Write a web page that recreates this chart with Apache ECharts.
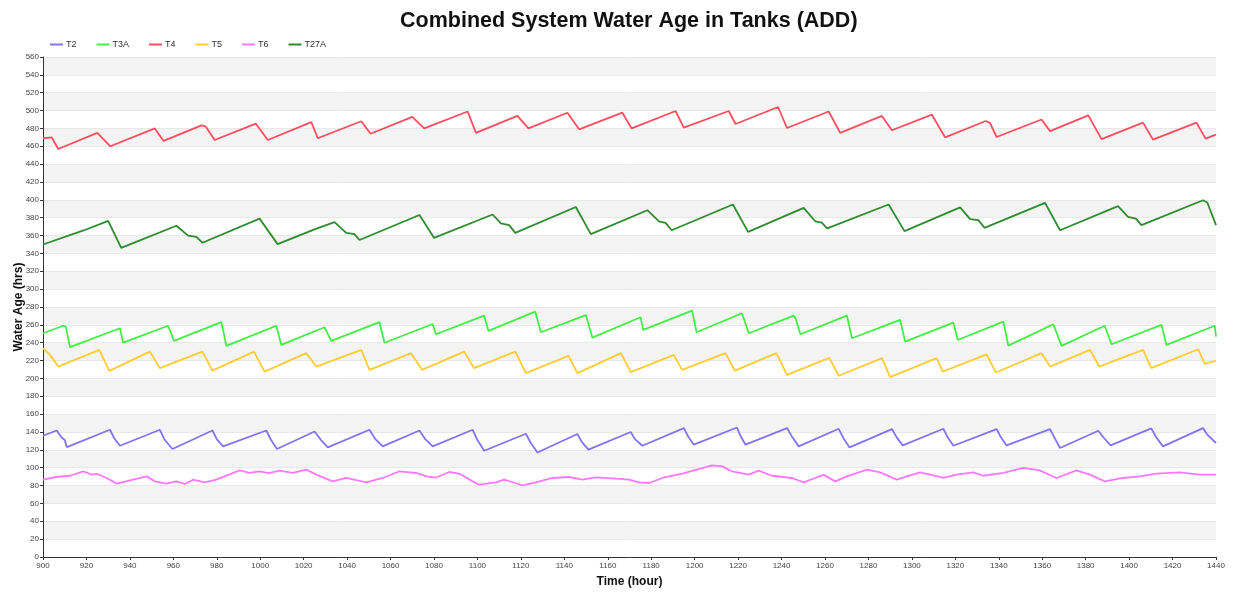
<!DOCTYPE html>
<html>
<head>
<meta charset="utf-8">
<script src="https://cdn.jsdelivr.net/npm/echarts@6/dist/echarts.min.js"></script>
<style>html,body{margin:0;padding:0;background:#fff;}#chart{width:1233px;height:593px;}</style>
</head>
<body>
<div id="chart"></div>
<script>
var seriesNames = ['T2', 'T3A', 'T4', 'T5', 'T6', 'T27A'];
var xTicks = {min: 900, max: 1440, step: 20};
var yTicks = {min: 0, max: 560, step: 20};

var t2 = [[900,135.8],[906.3,141.7],[908.5,134],[910,131],[911,123],[930.8,142.5],[932.8,133],[935.4,124.6],[953.8,142.5],[956,131.3],[959.6,121],[978,141.7],[980,132],[982.9,123.9],[1002.8,141.7],[1005,131],[1007.7,121],[1025,140.6],[1028,131],[1031.1,122.7],[1050.3,142.5],[1053,132],[1056.4,123.9],[1073.3,141.7],[1076,132],[1079.4,123.9],[1097.8,142.5],[1100,131],[1103.1,119],[1122.3,138],[1124.5,128],[1127.6,117.1],[1146,137.7],[1148,129],[1151.1,120.2],[1170.6,140],[1172.5,132],[1175.9,124.6],[1195,144.4],[1197,135],[1199.6,125.8],[1219.5,145],[1221,136],[1223.4,125.8],[1242.5,144.4],[1245,134],[1247.9,123.9],[1266.3,143.6],[1268.5,133],[1271.3,122.7],[1290.8,143.3],[1293,134],[1295.8,125],[1314.5,143.6],[1316.5,134],[1319.1,124.6],[1339,143.3],[1341,134],[1343.6,125],[1363.6,143.3],[1366,132],[1368.2,122.1],[1385.8,141.4],[1388.5,133],[1391.5,125],[1410.2,144],[1412.5,134],[1415.6,123.9],[1434,144.4],[1436,137],[1440,127.7]];

var t3a = [[900,250.6],[909.3,259],[910.5,258],[912.4,235],[935.4,256.2],[936.9,240],[957.6,259],[960.3,242],[982.1,263],[984.4,236.4],[1007.4,259],[1009.7,237.5],[1029.6,257.3],[1032.7,242],[1054.9,263],[1057.2,240],[1079.4,261],[1080.9,249.5],[1103.1,270.3],[1105.1,253.2],[1126.6,274.8],[1129.2,251.7],[1149.9,271],[1152.9,245.7],[1175.1,268.5],[1176.3,254.3],[1198.8,276],[1200.9,251.7],[1221.8,273],[1224.9,250.6],[1245.6,270.3],[1246.5,267],[1248.7,249.5],[1270.1,270.3],[1272.4,245],[1294.6,265.5],[1296.9,241.2],[1319.1,262.5],[1321.1,243],[1342.1,263.6],[1344.4,236.8],[1365.1,260.7],[1368.9,236.4],[1388.8,259],[1391.9,238.3],[1414.9,260],[1417.2,237.5],[1439.4,259],[1440,246.8]];

var t4 = [[900,469],[904,470],[907,457],[925,475],[931,460],[951.5,480],[955.5,466],[973,483.5],[975,482],[979,467],[998,485.3],[1003.5,467],[1023.5,487],[1026.5,469],[1046.5,488],[1050.8,474],[1070,493],[1075.5,480],[1095.5,499],[1099.3,475],[1118.4,494],[1123.5,480],[1141.4,497.6],[1146.8,479],[1166.7,497.6],[1171,480],[1191.2,499.5],[1195,481],[1215.7,499.5],[1218.8,485],[1238.4,504],[1242.5,480.5],[1261.7,499],[1267,475],[1286.2,494],[1290.8,478],[1309.2,495.4],[1315.3,470],[1334,488.3],[1336,486],[1339,470.4],[1359.7,490],[1363.6,477],[1381.2,494.6],[1387.3,468],[1406.4,486.5],[1411,467.5],[1431,486.5],[1435.2,468.6],[1440,473]];

var t5 = [[900,233.8],[903.2,226.4],[907,213.3],[925.9,232],[930.5,208.5],[949.2,230],[953.8,211.5],[973.4,230],[978,208.8],[997.1,230],[1002,207.7],[1021.2,228.3],[1025.8,213.3],[1046.5,232],[1050.3,209.6],[1069.4,228.3],[1074.5,209.6],[1093.9,230],[1098.5,211.5],[1117.4,230],[1122.3,206],[1141.9,225.2],[1146,206],[1166,228.3],[1170.6,207],[1190.4,226.4],[1194.2,209.6],[1214.2,228.3],[1218.5,208.8],[1237.6,228.3],[1242.5,204],[1262,223],[1266.3,203],[1286.2,222.7],[1290,201.4],[1311.4,222.7],[1314.2,207.7],[1334.4,227],[1338.7,206.6],[1359.7,228.3],[1363.6,213.3],[1382,232],[1386.2,213.3],[1406.4,232],[1410.2,211.5],[1431.8,232.7],[1434.8,216.3],[1440,220]];

var t6 = [[900,86.6],[906,89.6],[912.4,91],[918.5,96],[922.4,92.2],[925,93],[929.3,88.5],[933.9,82.2],[941.5,86.6],[947.7,90.3],[951.5,84.7],[956.7,82.2],[961.4,84.7],[965.2,81.8],[969.1,86.6],[974.4,83.6],[979.8,86.6],[990.5,97],[995.1,94.1],[999.7,96],[1004,94],[1008.9,96.7],[1015,94.1],[1021.2,97.8],[1025.8,92.2],[1033.4,84.7],[1039.6,88.5],[1048.8,83.6],[1056.4,88.5],[1064.1,96],[1071.7,94.1],[1077,90],[1081,89],[1087,95.2],[1092,93],[1097.8,84.7],[1100.8,81],[1108.5,83.6],[1112.3,86.6],[1116,84],[1120.7,80.3],[1126.9,83.6],[1134.5,88.5],[1142.2,89.6],[1148.3,86.6],[1154.5,89.2],[1162,88],[1169.8,86.6],[1174.4,83.6],[1179,82.9],[1185.1,88.5],[1194.3,93.3],[1208.1,102.6],[1212.6,101.5],[1217.2,96],[1224.9,92.2],[1229.5,96.7],[1235.6,91],[1244.8,88.5],[1250.2,83.6],[1255.5,88.5],[1259.4,92],[1264.7,84.7],[1270.1,90.3],[1279.3,97.8],[1285.4,94.8],[1293.1,86.6],[1297.7,90.3],[1303.8,94.8],[1309,92],[1314.5,88.5],[1320.6,92.2],[1328.3,94.8],[1332.9,91],[1342.1,94.1],[1351.3,99.7],[1358.9,97],[1366.5,88.5],[1375.8,97],[1381.9,92.2],[1388.8,84.7],[1397.2,88.5],[1404.9,90.3],[1412.5,93.3],[1423.3,94.8],[1432.5,92.2],[1440,92.2]];

var t27a = [[900,350],[919,366],[930,376.5],[936,346.3],[961.4,371],[966.8,360],[970.6,358.6],[973.4,352],[999.7,379],[1008,350.4],[1025,367],[1034.2,375],[1039.6,363],[1043.4,361.6],[1045.7,355],[1073.3,383],[1080,357.5],[1107,383.6],[1110.8,373.6],[1114.6,371.7],[1117.4,363],[1145.3,392],[1152.2,361.6],[1178.2,388.4],[1183.6,376],[1186.6,374.2],[1189.4,366],[1217.6,394.8],[1224.6,364.2],[1250.2,391],[1255.5,376],[1258.5,374.5],[1261,368],[1289.3,394.8],[1296.6,365],[1322.2,391.5],[1326.8,378.4],[1330.6,377.3],[1333.4,368.7],[1361.3,396.6],[1368.2,366],[1394.9,393],[1399.5,381],[1403.1,379],[1405.7,371.7],[1434,399.6],[1436,397],[1440,371.7]];

var seriesData = [t2, t3a, t4, t5, t6, t27a];
var colors = ['#8074f2', '#44ee44', '#ff4d5e', '#ffcc33', '#ff77ff', '#2e8b2e'];

var chart = echarts.init(document.getElementById('chart'), null, {renderer: 'canvas'});
var font = '"Liberation Sans", Arial, sans-serif';

chart.setOption({
  animation: false,
  backgroundColor: '#ffffff',
  color: colors,
  textStyle: {fontFamily: font},
  title: {
    text: 'Combined System Water Age in Tanks (ADD)',
    left: 395, top: 5,
    textStyle: {fontSize: 21.5, fontWeight: 'bold', color: '#111', fontFamily: font}
  },
  legend: {
    left: 45, top: 35,
    icon: 'rect', itemWidth: 13, itemHeight: 2, itemGap: 20,
    textStyle: {fontSize: 9, color: '#333', padding: [0, 0, 0, -2]},
    data: seriesNames
  },
  grid: {left: 43, right: 17, top: 57, bottom: 36, containLabel: false, outerBoundsMode: 'none'},
  xAxis: {
    type: 'value', min: xTicks.min, max: xTicks.max, interval: xTicks.step,
    name: 'Time (hour)', nameLocation: 'middle', nameGap: 19,
    nameTextStyle: {fontSize: 12, fontWeight: 'bold', color: '#111'},
    axisLine: {show: true, lineStyle: {color: '#333', width: 1}},
    axisTick: {show: true, length: 3, lineStyle: {color: '#333'}},
    axisLabel: {fontSize: 8, color: '#444', margin: 5, formatter: function (v) { return String(v); }},
    splitLine: {show: false}
  },
  yAxis: {
    type: 'value', min: yTicks.min, max: yTicks.max, interval: yTicks.step,
    name: 'Water Age (hrs)', nameLocation: 'middle', nameGap: 18, nameMoveOverlap: false,
    nameTextStyle: {fontSize: 12, fontWeight: 'bold', color: '#111'},
    axisLine: {show: true, lineStyle: {color: '#333', width: 1}},
    axisTick: {show: true, length: 3, lineStyle: {color: '#333'}},
    axisLabel: {fontSize: 8, color: '#444', margin: 4, formatter: function (v) { return String(v); }},
    splitLine: {show: true, lineStyle: {color: '#e8e8e8', width: 1}},
    splitArea: {show: true, areaStyle: {color: ['#ffffff', '#f4f4f4']}}
  },
  series: seriesNames.map(function (n, i) {
    return {
      name: n, type: 'line', data: seriesData[i],
      showSymbol: false, symbol: 'none',
      lineStyle: {width: 1.8, color: colors[i]},
      itemStyle: {color: colors[i]}
    };
  })
});
</script>
</body>
</html>
